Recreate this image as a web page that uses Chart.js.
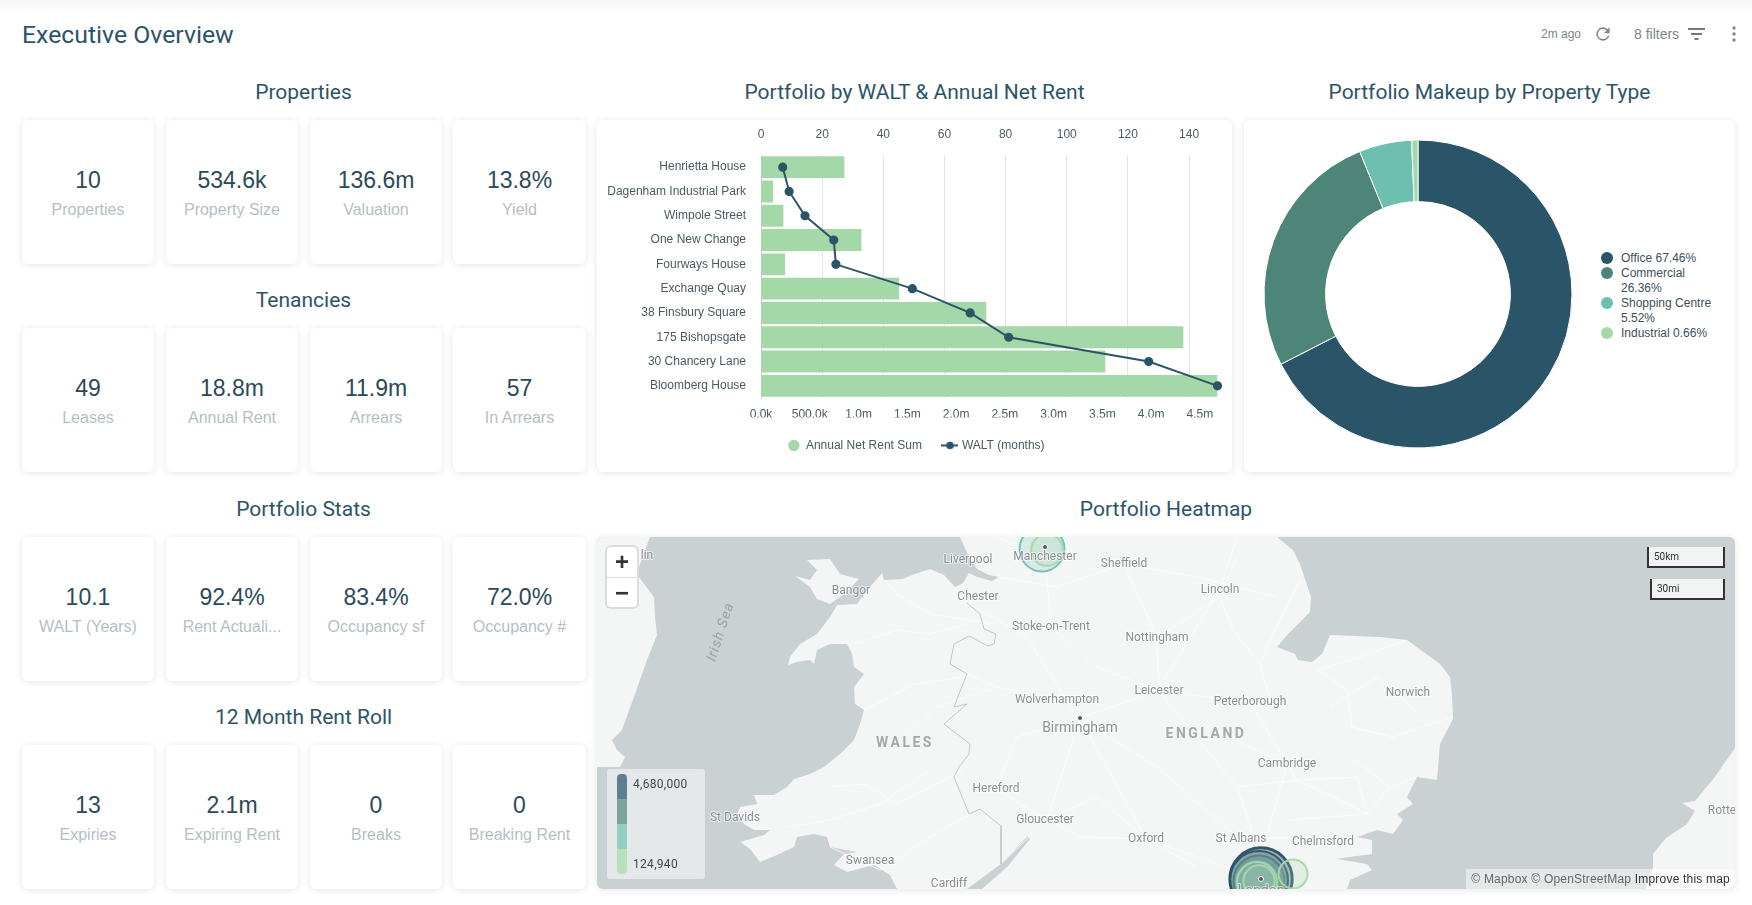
<!DOCTYPE html>
<html lang="en">
<head>
    <meta charset="UTF-8">
    <title>Executive Overview</title>
    <script src="https://cdn.jsdelivr.net/npm/chart.js@4"></script>
    <style>
        html, body { margin: 0; padding: 0; background: #fff; }
        body { width: 1752px; height: 905px; position: relative; overflow: hidden; font-family: "Liberation Sans", Arial, sans-serif; color: #2c5468; }
        .topshade { position: absolute; left: 0; top: 0; width: 100%; height: 16px; background: linear-gradient(#f5f5f5, #fff); }
        h1 { position: absolute; left: 22px; top: 18px; margin: 0; font: 400 24.8px/34px Roboto, sans-serif; color: #2c5468; }
        .title { font: 400 21px/40px Roboto, sans-serif; color: #2c5468; text-align: center; position: absolute; }
        .card { background: #fff; border-radius: 6px; box-shadow: 0 1px 8px rgba(0, 0, 0, .1); position: absolute; }
        .tools { position: absolute; top: 24px; height: 20px; line-height: 20px; color: #7a868c; white-space: nowrap; }
        .section { position: absolute; left: 22px; width: 563px; }
        .section .title { position: static; margin-bottom: 8px; }
        .kpis { display: grid; grid-template-columns: repeat(4, 132px); column-gap: 12px; }
        .kpi { position: relative; height: 144px; background: #fff; border-radius: 6px; box-shadow: 0 1px 8px rgba(0, 0, 0, .1); text-align: center; }
        .kpi:nth-child(4) { margin-left: -1px; }
        .kpi b { position: absolute; left: 0; right: 0; top: 46px; font-weight: 400; font-size: 23px; line-height: 28px; color: #2b4a5b; }
        .kpi span { position: absolute; left: 0; right: 0; top: 80px; font-size: 16px; line-height: 20px; color: #b3bfc5; white-space: nowrap; }
        #donutLegend { position: absolute; left: 357px; top: 131px; width: 116px; font-size: 12px; line-height: 15px; color: #3d4f59; }
        #donutLegend div { position: relative; padding-left: 20px; }
        #donutLegend i { position: absolute; left: 0; top: 1px; width: 12px; height: 12px; border-radius: 50%; }
        #mapCard { overflow: hidden; background: #c9d1d3; }
        .zoomctl { position: absolute; left: 10px; top: 10px; width: 30px; height: 60px; background: #fff; border-radius: 4px; box-shadow: 0 0 0 2px rgba(0, 0, 0, .1); color: #333; text-align: center; font: 700 24px/30px "Liberation Sans", sans-serif; }
        .zoomctl div + div { border-top: 1px solid #ddd; }
        .heatlegend { position: absolute; left: 10px; top: 232px; width: 98px; height: 110px; border-radius: 3px; background: rgba(255, 255, 255, .5); font: 12px/16px Roboto, sans-serif; color: #444; }
        .heatlegend i { position: absolute; left: 10px; width: 10px; height: 25px; }
        .heatlegend span { position: absolute; left: 26px; letter-spacing: .3px; }
        .scale { position: absolute; right: 10px; height: 19px; border: 2px solid #333; border-top: 0; background: rgba(255, 255, 255, .75); font: 10px/19px Roboto, sans-serif; color: #333; padding-left: 5px; box-sizing: content-box; }
        .attrib { position: absolute; right: 0; bottom: 0; height: 20px; line-height: 20px; padding: 0 5px; background: rgba(255, 255, 255, .5); font-size: 12px; letter-spacing: .2px; color: #666; white-space: nowrap; }
        .attrib em { font-style: normal; color: #333; }
    </style>
</head>
<body>
    <div class="topshade"></div>
    <h1>Executive Overview</h1>

    <div class="tools" style="left:1541px;font-size:12px">2m ago</div>
    <svg style="position:absolute;left:1593px;top:24px" width="20" height="20" viewBox="0 0 24 24"><path fill="#7f8b91" d="M17.65 6.35A8 8 0 1 0 19.73 14h-2.08A6 6 0 1 1 12 6c1.66 0 3.14.69 4.22 1.78L13 11h7V4z"/></svg>
    <div class="tools" style="left:1634px;font-size:14px">8 filters</div>
    <svg style="position:absolute;left:1688px;top:26px" width="17" height="16" viewBox="0 0 17 16"><path fill="#6f7b81" d="M0 2h17v2H0zM3 7h11v2H3zM6.500 12h4v2h-4z"/></svg>
    <svg style="position:absolute;left:1731px;top:26px" width="6" height="16" viewBox="0 0 6 16"><g fill="#7f8b91"><circle cx="3" cy="2" r="1.700"/><circle cx="3" cy="8" r="1.700"/><circle cx="3" cy="14" r="1.700"/></g></svg>

    <div id="kpiSections"></div>

    <div class="title" style="left:597px;width:635px;top:72px">Portfolio by WALT &amp; Annual Net Rent</div>
    <div class="card" style="left:597px;top:120px;width:635px;height:352px"><canvas id="rentChart"></canvas></div>

    <div class="title" style="left:1244px;width:491px;top:72px">Portfolio Makeup by Property Type</div>
    <div class="card" style="left:1244px;top:120px;width:491px;height:352px">
        <div style="position:absolute;left:0;top:0;width:348px;height:352px"><canvas id="typeChart"></canvas></div>
        <div id="donutLegend"></div>
    </div>

    <div class="title" style="left:597px;width:1138px;top:489px">Portfolio Heatmap</div>
    <div class="card" id="mapCard" style="left:597px;top:537px;width:1138px;height:352px">
        <div style="position:absolute;left:0;top:0;width:1138px;height:352px"><canvas id="mapChart"></canvas></div>
        <div class="zoomctl"><div>+</div><div>&minus;</div></div>
        <div class="heatlegend" id="heatLegend"></div>
        <div class="scale" style="top:10px;width:69px">50km</div>
        <div class="scale" style="top:42px;width:66px">30mi</div>
        <div class="attrib">&copy; Mapbox &copy; OpenStreetMap <em>Improve this map</em></div>
    </div>

    <script>
        // KPI blocks
        const sectionTitles = ['Properties', 'Tenancies', 'Portfolio Stats', '12 Month Rent Roll'];
        const sectionTops = [72, 280, 489, 697];
        const kpiValues = [
            ['10', '534.6k', '136.6m', '13.8%'],
            ['49', '18.8m', '11.9m', '57'],
            ['10.1', '92.4%', '83.4%', '72.0%'],
            ['13', '2.1m', '0', '0']
        ];
        const kpiLabels = [
            ['Properties', 'Property Size', 'Valuation', 'Yield'],
            ['Leases', 'Annual Rent', 'Arrears', 'In Arrears'],
            ['WALT (Years)', 'Rent Actuali...', 'Occupancy sf', 'Occupancy #'],
            ['Expiries', 'Expiring Rent', 'Breaks', 'Breaking Rent']
        ];

        // rent + WALT chart
        const propertyNames = ['Henrietta House', 'Dagenham Industrial Park', 'Wimpole Street', 'One New Change', 'Fourways House', 'Exchange Quay', '38 Finsbury Square', '175 Bishopsgate', '30 Chancery Lane', 'Bloomberg House'];
        const annualNetRent = [855000, 124940, 230000, 1030000, 247000, 1416000, 2310000, 4330000, 3530000, 4680000];
        const waltMonths = [7.1, 9.2, 14.4, 23.8, 24.5, 49.5, 68.4, 81, 126.8, 149.3];
        const rentTicks = [0, 500000, 1000000, 1500000, 2000000, 2500000, 3000000, 3500000, 4000000, 4500000];
        const waltTicks = [0, 20, 40, 60, 80, 100, 120, 140];
        const rentSeriesName = 'Annual Net Rent Sum';
        const waltSeriesName = 'WALT (months)';

        // donut
        const propertyTypes = ['Office', 'Commercial', 'Shopping Centre', 'Industrial'];
        const typeShares = [67.46, 26.36, 5.52, 0.66];
        const typeColours = ['#2a5468', '#4d8578', '#6dbfb0', '#a5d8a9'];

        // map legend
        const heatRangeLabels = ['4,680,000', '124,940'];
        const heatLegendColours = ['#5e7f92', '#7aa59b', '#91cfc3', '#b8e0bb'];

        // map shapes in map pixels (x, y, x, y ...)
        const britainCoast = [363,0, 372,20, 380,32, 392,38, 402,40, 395,44, 380,40, 372,36, 366,46, 358,50, 347,38, 333,32, 318,37, 305,42, 287,43, 285,36, 273,50, 260,67, 240,68, 233,80, 220,97, 203,107, 193,120, 191,128, 200,125, 213,123, 217,127, 220,113, 233,107, 250,107, 255,117, 257,130, 267,137, 257,150, 258,167, 267,173, 263,187, 257,203, 243,217, 227,230, 213,237, 197,242, 190,250, 177,258, 157,258, 160,267, 143,270, 140,278, 147,287, 157,293, 173,293, 167,298, 143,305, 153,312, 163,325, 180,318, 197,310, 200,300, 217,297, 230,300, 233,310, 260,315, 247,317, 237,328, 250,335, 277,328, 293,338, 300,352, 370,352, 404,327, 431,299, 433,302, 410,330, 385,352, 750,352, 753,343, 775,333, 770,327, 740,322, 753,320, 775,317, 775,303, 760,300, 780,293, 796,297, 806,283, 800,277, 816,267, 810,260, 820,240, 840,243, 843,207, 856,182, 855,157, 853,140, 843,127, 810,103, 783,100, 733,98, 725,117, 715,125, 701,123, 698,117, 680,110, 691,97, 713,75, 714,60, 703,27, 696,13, 680,0];
        const angleseyCoast = [210,23, 233,22, 243,37, 262,42, 247,57, 233,67, 220,62, 213,50, 198,39, 213,43, 220,33];
        const irelandCoast = [0,0, 53,0, 50,8, 42,30, 42,40, 57,60, 58,80, 60,98, 50,123, 38,157, 25,193, 15,203, 20,213, 28,220, 23,230, 0,230];
        const hollandCoast = [1138,211, 1117,241, 1098,264, 1085,266, 1098,274, 1090,287, 1069,301, 1056,317, 1056,331, 1048,352, 1138,352];
        const walesBorder = [370,66, 383,77, 387,92, 399,97, 397,107, 391,109, 372,99, 357,107, 353,127, 370,137, 362,157, 357,170, 370,167, 347,187, 373,207, 372,217, 362,230, 357,240, 372,277, 383,272, 404,289, 404,327];
        const mainRoads = [
            [370,66, 430,100, 480,180, 560,230, 640,300],
            [483,181, 560,154, 623,53, 640,0],
            [483,181, 450,283, 404,327],
            [483,181, 549,302, 664,342],
            [560,101, 562,154, 640,250, 664,320],
            [454,90, 448,20, 400,0],
            [527,27, 560,101],
            [653,165, 690,227, 664,320],
            [720,133, 763,120, 810,103],
            [721,133, 750,153, 755,190, 796,200, 833,187, 856,180],
            [750,217, 793,250, 770,277],
            [770,277, 736,260, 700,243, 690,227],
            [676,173, 663,127, 676,97, 703,43],
            [623,60, 636,93, 663,127],
            [603,187, 646,207, 690,227],
            [793,250, 820,240],
            [770,277, 693,283],
            [397,87, 333,77, 300,57, 287,43],
            [257,107, 300,93, 333,97, 370,87],
            [267,173, 317,147, 367,140],
            [233,250, 267,247, 300,267, 367,233],
            [190,290, 233,283, 283,267, 333,233],
            [233,310, 283,333, 333,300, 373,277],
            [450,283, 500,260, 549,302, 600,330],
            [399,252, 450,283, 483,300, 549,302],
            [399,252, 420,200, 483,181],
            [460,163, 400,150, 370,137],
            [527,27, 600,40, 680,60],
            [560,101, 623,60, 640,20],
            [454,90, 500,130, 562,154, 653,165],
            [733,170, 780,140, 820,175],
            [640,250, 700,243, 760,240, 770,277],
            [644,302, 700,300, 760,300],
            [300,207, 340,170, 400,150],
            [400,40, 460,50, 527,27]
        ];

        // map labels
        const cityNames = ['lin', 'Liverpool', 'Manchester', 'Sheffield', 'Bangor', 'Chester', 'Stoke-on-Trent', 'Nottingham', 'Lincoln', 'Wolverhampton', 'Leicester', 'Peterborough', 'Norwich', 'Cambridge', 'Hereford', 'Gloucester', 'St Davids', 'Swansea', 'Cardiff', 'Oxford', 'St Albans', 'Chelmsford', 'Rotte', 'London'];
        const cityX = [50, 371, 448, 527, 254, 381, 454, 560, 623, 460, 562, 653, 811, 690, 399, 448, 138, 273, 352, 549, 644, 726, 1125, 664];
        const cityY = [19, 23, 20, 27, 54, 60, 90, 101, 53, 163, 154, 165, 156, 227, 252, 283, 281, 324, 347, 302, 302, 305, 274, 354];
        const regionNames = ['WALES', 'ENGLAND'];
        const regionX = [308, 609];
        const regionY = [206, 197];
        const capitalX = [664, 448, 483];
        const capitalY = [342, 10, 181];

        // heat points: which properties sit where on the map
        const heatProperty = [9, 7, 8, 6, 3, 0, 2, 1, 5, 4];
        const heatX = [664, 664, 662, 662, 660, 660, 662, 696, 445, 450];
        const heatY = [342, 342, 343, 344, 345, 345, 344, 337, 12, 13];

        Chart.defaults.animation = false;
        Chart.defaults.font.family = '"Liberation Sans", Arial, sans-serif';
        Chart.defaults.font.size = 12;
        Chart.defaults.color = '#4a5a62';

        function buildKpis() {
            const host = document.getElementById('kpiSections');
            sectionTitles.forEach((name, i) => {
                const cards = kpiValues[i].map((v, j) => '<div class="kpi"><b>' + v + '</b><span>' + kpiLabels[i][j] + '</span></div>').join('');
                host.insertAdjacentHTML('beforeend', '<div class="section" style="top:' + sectionTops[i] + 'px"><div class="title">' + name + '</div><div class="kpis">' + cards + '</div></div>');
            });
        }

        function waltLegendIcon() {
            const c = document.createElement('canvas');
            c.width = 17;
            c.height = 9;
            const x = c.getContext('2d');
            x.fillStyle = x.strokeStyle = '#2c5468';
            x.lineWidth = 2;
            x.beginPath(); x.moveTo(0, 4.5); x.lineTo(17, 4.5); x.stroke();
            x.beginPath(); x.arc(8.5, 4.5, 3.8, 0, Math.PI * 2); x.fill();
            return c;
        }

        function rentTickLabel(v) {
            return v >= 1000000 ? (v / 1000000).toFixed(1) + 'm' : (v / 1000).toFixed(1) + 'k';
        }

        // legend sits a little right of the canvas centre
        const legendNudge = {
            id: 'legendNudge',
            afterLayout(chart) {
                chart.legend.left += 9;
                chart.legend.right += 9;
            }
        };

        function buildRentChart() {
            const icon = waltLegendIcon();
            new Chart(document.getElementById('rentChart'), {
                type: 'bar',
                data: {
                    labels: propertyNames,
                    datasets: [
                        { type: 'line', indexAxis: 'y', label: waltSeriesName, data: waltMonths, xAxisID: 'xTop', yAxisID: 'y', order: 0, clip: false,
                          borderColor: '#2c5468', backgroundColor: '#2c5468', borderWidth: 2, pointRadius: 3.6, tension: 0, fill: false },
                        { type: 'bar', label: rentSeriesName, data: annualNetRent, xAxisID: 'x', yAxisID: 'y', order: 1,
                          backgroundColor: '#a5d8a9', barPercentage: 0.9, categoryPercentage: 1 }
                    ]
                },
                plugins: [legendNudge],
                options: {
                    indexAxis: 'y',
                    responsive: true,
                    maintainAspectRatio: false,
                    layout: { autoPadding: false, padding: { right: 14.5, bottom: 10.6 } },
                    scales: {
                        xTop: {
                            axis: 'x', position: 'top', min: 0, max: 149.3,
                            afterBuildTicks: s => { s.ticks = waltTicks.map(v => ({ value: v })); },
                            afterFit: s => { s.height = 35; },
                            grid: { color: '#e4e4e4', drawTicks: false },
                            border: { display: false },
                            ticks: { padding: 13, maxRotation: 0, autoSkip: false }
                        },
                        x: {
                            axis: 'x', position: 'bottom', min: 0, max: 4680000,
                            afterBuildTicks: s => { s.ticks = rentTicks.map(v => ({ value: v })); },
                            afterFit: s => { s.height = 19.4; },
                            grid: { display: false, drawTicks: false },
                            border: { display: false },
                            ticks: { padding: 9, maxRotation: 0, autoSkip: false, callback: rentTickLabel }
                        },
                        y: {
                            afterFit: s => { s.width = 164; },
                            grid: { display: false, drawTicks: false },
                            border: { color: '#c5d3da' },
                            ticks: { padding: 15, autoSkip: false }
                        }
                    },
                    plugins: {
                        tooltip: { enabled: false },
                        legend: {
                            position: 'bottom',
                            labels: {
                                padding: 22,
                                usePointStyle: true,
                                boxHeight: 8,
                                color: '#4a5a62',
                                sort: (a, b) => b.datasetIndex - a.datasetIndex,
                                generateLabels: chart => chart.data.datasets.map((d, i) => ({
                                    text: d.label,
                                    datasetIndex: i,
                                    fillStyle: d.backgroundColor,
                                    strokeStyle: d.backgroundColor,
                                    lineWidth: 0,
                                    fontColor: '#4a5a62',
                                    pointStyle: d.type === 'line' ? icon : 'circle'
                                }))
                            }
                        }
                    }
                }
            });
        }

        function buildTypeChart() {
            new Chart(document.getElementById('typeChart'), {
                type: 'doughnut',
                data: {
                    labels: propertyTypes,
                    datasets: [{ data: typeShares, backgroundColor: typeColours, borderColor: '#fff', borderWidth: 1 }]
                },
                options: {
                    responsive: true,
                    maintainAspectRatio: false,
                    radius: 154,
                    cutout: '60%',
                    layout: { padding: { bottom: 4 } },
                    plugins: { legend: { display: false }, tooltip: { enabled: false } }
                }
            });
            document.getElementById('donutLegend').innerHTML = propertyTypes.map((t, i) =>
                '<div><i style="background:' + typeColours[i] + '"></i>' + t + ' ' + typeShares[i].toFixed(2) + '%</div>').join('');
        }

        function toPoints(flat) {
            const pts = [];
            for (let i = 0; i < flat.length; i += 2) pts.push({ x: flat[i], y: flat[i + 1] });
            return pts;
        }

        function heatRadius(v) {
            return 11.1 + 9.5 * Math.sqrt(v / 1000000);
        }

        function heatColour(v, alpha) {
            const rgb = v >= 3500000 ? '42,84,104' : v >= 2000000 ? '77,133,120' : v >= 1000000 ? '109,191,176' : '165,216,169';
            return 'rgba(' + rgb + ',' + alpha + ')';
        }

        const mapLabelPlugin = {
            id: 'mapLabels',
            afterDatasetsDraw(chart) {
                const { ctx, scales: { x, y } } = chart;
                ctx.save();
                ctx.textAlign = 'center';
                ctx.textBaseline = 'middle';
                ctx.lineJoin = 'round';
                ctx.lineWidth = 2;
                ctx.strokeStyle = 'rgba(255,255,255,.6)';
                cityNames.forEach((name, i) => {
                    ctx.font = (name === 'London' ? '14px' : '12px') + ' Roboto, sans-serif';
                    ctx.fillStyle = '#8c8f91';
                    ctx.strokeText(name, x.getPixelForValue(cityX[i]), y.getPixelForValue(cityY[i]));
                    ctx.fillText(name, x.getPixelForValue(cityX[i]), y.getPixelForValue(cityY[i]));
                });
                ctx.font = '14px Roboto, sans-serif';
                ctx.strokeText('Birmingham', x.getPixelForValue(483), y.getPixelForValue(191));
                ctx.fillText('Birmingham', x.getPixelForValue(483), y.getPixelForValue(191));
                ctx.font = '700 14px Roboto, sans-serif';
                ctx.letterSpacing = '2.5px';
                ctx.fillStyle = '#a6a8a9';
                regionNames.forEach((name, i) => {
                    ctx.fillText(name, x.getPixelForValue(regionX[i]), y.getPixelForValue(regionY[i]));
                });
                ctx.letterSpacing = '1px';
                ctx.font = 'italic 14px Roboto, sans-serif';
                ctx.fillStyle = '#97a3a6';
                ctx.translate(x.getPixelForValue(124), y.getPixelForValue(95));
                ctx.rotate(-72 * Math.PI / 180);
                ctx.fillText('Irish Sea', 0, 0);
                ctx.restore();
            }
        };

        function buildMapChart() {
            const fillShape = (flat, colour) => ({
                type: 'line', data: toPoints(flat), borderWidth: 0, pointRadius: 0, tension: 0,
                fill: 'shape', backgroundColor: colour, order: 10
            });
            const stroke = (flat, colour, width, order) => ({
                type: 'line', data: toPoints(flat), borderColor: colour, borderWidth: width, pointRadius: 0, tension: 0, fill: false, order: order
            });
            const land = '#f4f5f5';
            const rents = heatProperty.map(i => annualNetRent[i]);
            new Chart(document.getElementById('mapChart'), {
                type: 'scatter',
                data: {
                    datasets: [
                        fillShape(britainCoast, land),
                        fillShape(angleseyCoast, land),
                        fillShape(irelandCoast, land),
                        fillShape(hollandCoast, land),
                        ...mainRoads.map(r => stroke(r, '#fdfdfd', 0.8, 9)),
                        stroke(walesBorder, '#c5c7c8', 1, 8),
                        {
                            type: 'bubble',
                            data: heatX.map((x, i) => ({ x: x, y: heatY[i], r: heatRadius(rents[i]) })),
                            backgroundColor: rents.map(v => heatColour(v, 0.22)),
                            borderColor: rents.map(v => heatColour(v, 0.95)),
                            borderWidth: 2,
                            order: 5
                        },
                        {
                            type: 'bubble',
                            data: capitalX.map((x, i) => ({ x: x, y: capitalY[i], r: 2.5 })),
                            backgroundColor: '#555', borderColor: '#fff', borderWidth: 1, order: 1
                        }
                    ]
                },
                options: {
                    responsive: true,
                    maintainAspectRatio: false,
                    layout: { autoPadding: false, padding: 0 },
                    scales: {
                        x: { type: 'linear', display: false, min: 0, max: 1138 },
                        y: { type: 'linear', display: false, min: 0, max: 352, reverse: true }
                    },
                    plugins: { legend: { display: false }, tooltip: { enabled: false } }
                },
                plugins: [mapLabelPlugin]
            });
            const legend = document.getElementById('heatLegend');
            legend.innerHTML = heatLegendColours.map((c, i) => {
                const r = i === 0 ? 'border-radius:4px 4px 0 0;' : i === 3 ? 'border-radius:0 0 4px 4px;' : '';
                return '<i style="top:' + (5 + i * 25) + 'px;background:' + c + ';' + r + '"></i>';
            }).join('') + '<span style="top:7px">' + heatRangeLabels[0] + '</span><span style="top:87px">' + heatRangeLabels[1] + '</span>';
        }

        buildKpis();
        buildRentChart();
        buildTypeChart();
        buildMapChart();
    </script>
</body>
</html>
